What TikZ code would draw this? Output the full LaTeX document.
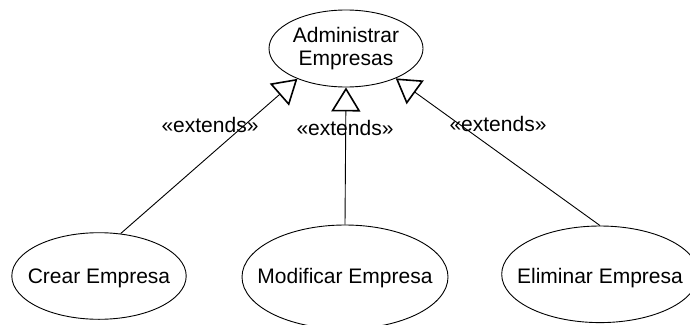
\documentclass[tikz,border=0pt]{standalone}
\usepackage{fontspec}
\setmainfont{Liberation Sans}
\usetikzlibrary{shapes.geometric,arrows.meta}
% zero-size text box, lowered so its baseline sits #1 below the node centre
\newcommand\ucname[2]{\makebox[0pt]{\raisebox{-#1}[0pt][0pt]{#2}}}
\begin{document}
\begin{tikzpicture}[x=1pt,y=-1pt,
  usecase/.style={draw, ellipse, line width=0.9pt, inner sep=0pt,
    font=\fontsize{21}{22.3}\selectfont},
  extend/.style={draw, line width=0.9pt,
    -{Triangle[open, length=24pt, width=29pt, line width=1.6pt]}},
  stereo/.style={font=\fontsize{21}{22}\selectfont, anchor=base, inner sep=0pt}]
\fill[white] (0,0) rectangle (690,324);
\clip (0,0) rectangle (690,324);

% use cases
\node[usecase, align=center, minimum width=154pt, minimum height=77pt]
  (admin) at (346,48.5) {Administrar\\Empresas};
\node[usecase, minimum width=174.4pt, minimum height=86.6pt]
  (crear) at (99,276) {\ucname{7.3pt}{Crear Empresa}};
\node[usecase, minimum width=206pt, minimum height=104pt]
  (modif) at (345,277) {\ucname{6.3pt}{Modificar Empresa}};
\node[usecase, minimum width=196.6pt, minimum height=96.6pt]
  (elim) at (600,274.3) {\ucname{9pt}{Eliminar Empresa}};

% extension relations
\draw[extend] (crear.63) -- (admin.212);
\draw[extend] (modif.north) -- (admin.south);
\draw[extend] (elim.north) -- (admin.329);

% stereotypes
\node[stereo] (ext1) at (210,132) {«extends»};
\node[stereo] (ext2) at (345,135.5) {«extends»};
\node[stereo] (ext3) at (498,131) {«extends»};
\end{tikzpicture}
\end{document}
